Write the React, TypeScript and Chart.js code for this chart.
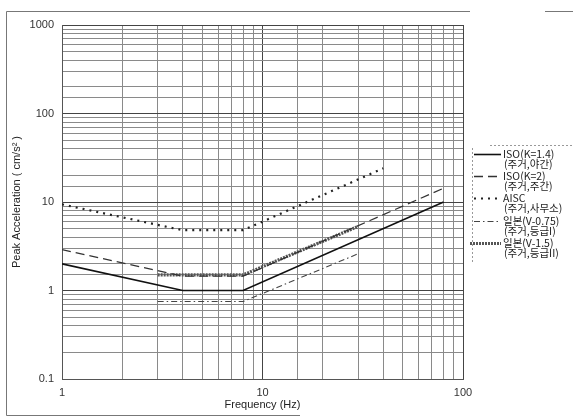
import React, { useEffect, useRef } from "react";
import { Chart, registerables } from "chart.js";

Chart.register(...registerables);

// ---- data ----
const iso14Freq = [1, 4, 8, 80];
const iso14Acc = [2.0, 1.0, 1.0, 10];
const iso2Freq = [1, 4, 8, 80];
const iso2Acc = [2.9, 1.45, 1.45, 14.3];
const aiscFreq = [1, 4, 8, 40];
const aiscAcc = [9.4, 4.8, 4.8, 24];
const jp075Freq = [3, 8, 30];
const jp075Acc = [0.75, 0.75, 2.6];
const jp15Freq = [3, 8, 30];
const jp15Acc = [1.5, 1.5, 5.3];

const legendLine1 = ["ISO(K=1.4)", "ISO(K=2)", "AISC", "일본(V-0.75)", "일본(V-1.5)"];
const legendLine2 = ["(주거,야간)", "(주거,주간)", "(주거,사무소)", "(주거,등급I)", "(주거,등급II)"];

const xTitle = "Frequency (Hz)";
const yTitle = "Peak Acceleration ( cm/s² )";

const pts = (fs: number[], vs: number[]) => fs.map((f, i) => ({ x: f, y: vs[i] }));

const isDecade = (v: number) => {
  const l = Math.log10(v);
  return Math.abs(l - Math.round(l)) < 1e-6;
};
const fmt = (v: number) => {
  const l = Math.round(Math.log10(v));
  return l < 0 ? v.toFixed(-l) : String(Math.round(v));
};

const styles = [
  { color: "#111", width: 1.6, dash: [] as number[] },
  { color: "#333", width: 1.3, dash: [9, 5] },
  { color: "#222", width: 2.2, dash: [2, 5] },
  { color: "#444", width: 1.1, dash: [6, 3, 1.5, 3] },
  { color: "#555", width: 3.2, dash: [2, 1] },
];

const decoPlugin = {
  id: "deco",
  afterDraw(chart: any) {
    const ctx = chart.ctx as CanvasRenderingContext2D;
    ctx.save();
    // outer frame
    ctx.strokeStyle = "#777";
    ctx.lineWidth = 1;
    ctx.setLineDash([]);
    ctx.beginPath();
    ctx.moveTo(470, 11.5);
    ctx.lineTo(6.5, 11.5);
    ctx.lineTo(6.5, 415.5);
    ctx.lineTo(300, 415.5);
    ctx.moveTo(545, 11.5);
    ctx.lineTo(573, 11.5);
    ctx.stroke();
    // legend box (partial, dashed)
    ctx.strokeStyle = "#999";
    ctx.setLineDash([2, 2]);
    ctx.beginPath();
    ctx.moveTo(490, 145.5);
    ctx.lineTo(573, 145.5);
    ctx.moveTo(472.5, 148);
    ctx.lineTo(472.5, 262);
    ctx.stroke();
    // legend entries
    const ys = [154, 176, 198, 221, 243];
    ctx.font = '10.5px "Noto Sans CJK KR", "Liberation Sans", sans-serif';
    ctx.fillStyle = "#222";
    ctx.textBaseline = "middle";
    ctx.textAlign = "left";
    ys.forEach((y, i) => {
      const s = styles[i];
      ctx.strokeStyle = s.color;
      ctx.lineWidth = s.width;
      ctx.setLineDash(s.dash);
      ctx.beginPath();
      ctx.moveTo(i === 4 ? 470 : 474, y + 0.5);
      ctx.lineTo(501, y + 0.5);
      ctx.stroke();
      ctx.fillText(legendLine1[i], 503, y);
      ctx.fillText(legendLine2[i], 504, y + 10);
    });
    ctx.restore();
  },
};

export default function App() {
  const ref = useRef<HTMLCanvasElement | null>(null);
  useEffect(() => {
    document.body.style.margin = "0";
    document.body.style.background = "#fff";
    const canvas = ref.current!;
    const data = [
      pts(iso14Freq, iso14Acc),
      pts(iso2Freq, iso2Acc),
      pts(aiscFreq, aiscAcc),
      pts(jp075Freq, jp075Acc),
      pts(jp15Freq, jp15Acc),
    ];
    const chart = new Chart(canvas, {
      type: "line",
      data: {
        datasets: data.map((d, i) => ({
          label: legendLine1[i],
          data: d,
          borderColor: styles[i].color,
          borderWidth: styles[i].width,
          borderDash: styles[i].dash,
          pointRadius: 0,
          fill: false,
          tension: 0,
        })),
      },
      options: {
        animation: false,
        responsive: false,
        maintainAspectRatio: false,
        layout: { padding: { top: 25, right: 110, left: 10, bottom: 5 } },
        plugins: { legend: { display: false }, tooltip: { enabled: false } },
        scales: {
          x: {
            type: "logarithmic",
            min: 1,
            max: 100,
            border: { display: true, color: "#555" },
            grid: {
              drawTicks: false,
              color: (c: any) => (c.tick && isDecade(c.tick.value) ? "#444" : "#8a8a8a"),
              lineWidth: 1,
            },
            ticks: {
              autoSkip: false,
              maxRotation: 0,
              padding: 7,
              color: "#333",
              font: { family: '"Liberation Sans", sans-serif', size: 11 },
              callback: (v: any) => (isDecade(Number(v)) ? fmt(Number(v)) : ""),
            },
            title: {
              display: true,
              text: xTitle,
              color: "#222",
              padding: { top: 0, bottom: 0 },
              font: { family: '"Liberation Sans", sans-serif', size: 11 },
            },
            afterFit: (s: any) => {
              s.height = 417 - 379 - 5;
            },
          },
          y: {
            type: "logarithmic",
            min: 0.1,
            max: 1000,
            border: { display: true, color: "#555" },
            grid: {
              drawTicks: false,
              color: (c: any) => (c.tick && isDecade(c.tick.value) ? "#444" : "#8a8a8a"),
              lineWidth: 1,
            },
            ticks: {
              autoSkip: false,
              padding: 8,
              color: "#333",
              font: { family: '"Liberation Sans", sans-serif', size: 11 },
              callback: (v: any) => (isDecade(Number(v)) ? fmt(Number(v)) : ""),
            },
            title: {
              display: true,
              text: yTitle,
              color: "#222",
              padding: { top: 0, bottom: 4 },
              font: { family: '"Liberation Sans", sans-serif', size: 11 },
            },
            afterFit: (s: any) => {
              s.width = 62 - 10;
            },
          },
        },
      },
      plugins: [decoPlugin],
    } as any);
    return () => chart.destroy();
  }, []);
  return <canvas ref={ref} width={573} height={417} style={{ display: "block" }} />;
}
